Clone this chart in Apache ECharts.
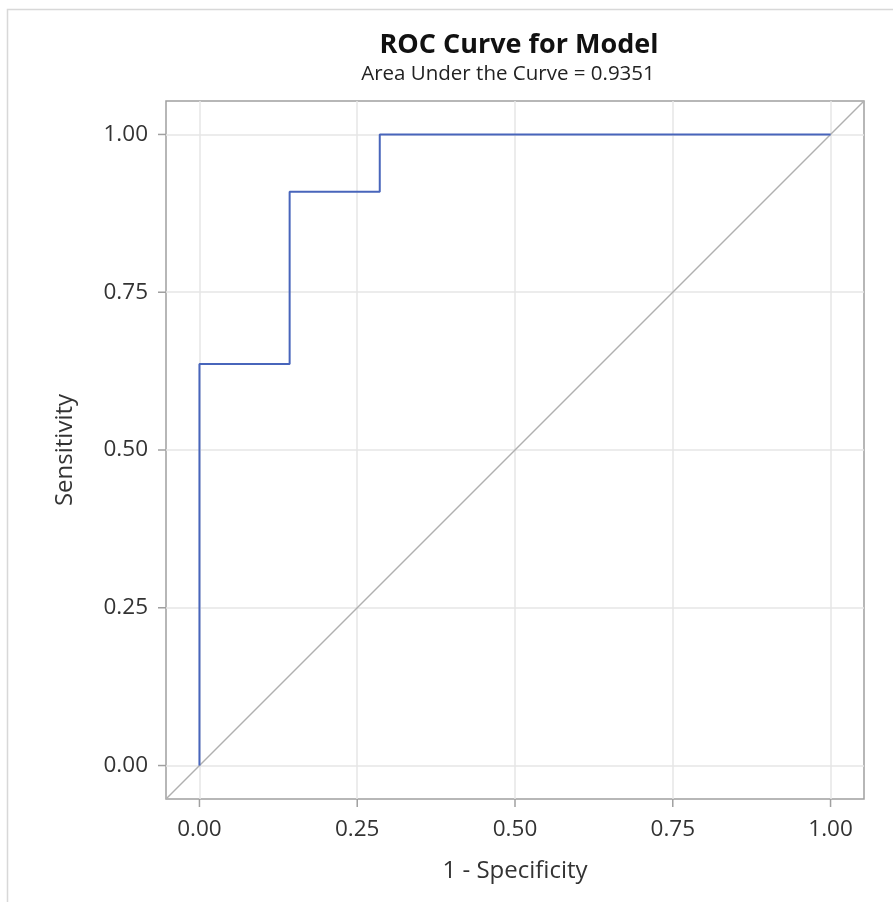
<!DOCTYPE html>
<html><head><meta charset="utf-8">
<script src="https://cdn.jsdelivr.net/npm/echarts@6/dist/echarts.min.js"></script>
<style>html,body{margin:0;padding:0;background:#fff}#c{width:893px;height:902px}</style>
</head><body><div id="c"></div>
<script>
const titleText = 'ROC Curve for Model';
const subtitleText = 'Area Under the Curve = 0.9351';
const xLabel = '1 - Specificity';
const yLabel = 'Sensitivity';
const fpr = [0, 0, 0.1429, 0.1429, 0.2857, 0.2857, 1];
const tpr = [0, 0.6364, 0.6364, 0.9091, 0.9091, 1, 1];
const refX = [-0.053, 1.053];
const refY = [-0.053, 1.053];
const tickVals = [0, 0.25, 0.5, 0.75, 1];

const chart = echarts.init(document.getElementById('c'), null, {renderer:'canvas'});
const axisCommon = {
  type:'value', min:-0.053, max:1.053,
  axisLine:{show:false},
  splitLine:{show:false},
  axisTick:{show:false},
  axisLabel:{show:false}
};
const rocData = fpr.map((x,i)=>[x,tpr[i]]);
const refData = refX.map((x,i)=>[x,refY[i]]);
chart.setOption({
  animation:false,
  title:[
    {text:titleText, left:514, top:27, textAlign:'center',
     textStyle:{fontFamily:'Open Sans', fontWeight:'bold', fontSize:27, color:'#111'}},
    {text:subtitleText, left:503, top:59, textAlign:'center',
     textStyle:{fontFamily:'Open Sans', fontWeight:'normal', fontSize:20.5, color:'#222'}}
  ],
  grid:{left:166, top:101, width:698, height:698, show:true, borderColor:'#a0a0a0', borderWidth:1.5, backgroundColor:'#fff'},
  xAxis:[Object.assign({}, axisCommon, {
    name:xLabel, nameLocation:'middle', nameGap:60,
    nameTextStyle:{fontFamily:'Open Sans', fontSize:24, color:'#333'}
  })],
  yAxis:[Object.assign({}, axisCommon, {
    name:yLabel, nameLocation:'middle', nameGap:89,
    nameTextStyle:{fontFamily:'Open Sans', fontSize:24, color:'#333'}
  })],
  series:[
    {type:'line', data:[], symbol:'none', silent:true, z:1,
     markLine:{silent:true, symbol:'none', label:{show:false}, animation:false, z:1,
       lineStyle:{color:'#e6e6e6', width:1.5, type:'solid'},
       data: tickVals.map(v=>({xAxis:v})).concat(tickVals.map(v=>({yAxis:v})))}
    },
    {type:'line', data:refData, symbol:'none', silent:true,
     lineStyle:{color:'#b0b0b0', width:1.5}, z:2},
    {type:'line', data:rocData, symbol:'none',
     lineStyle:{color:'#4865bb', width:2}, z:3}
  ]
});
function drawTicks(){
  const els = [];
  const tickFont = '22.5px "Open Sans"';
  tickVals.forEach(v=>{
    const px = chart.convertToPixel({xAxisIndex:0}, v);
    const py = chart.convertToPixel({yAxisIndex:0}, v);
    els.push({type:'line', shape:{x1:px, y1:799, x2:px, y2:807}, style:{stroke:'#a0a0a0', lineWidth:1.5}, silent:true});
    els.push({type:'text', x:px, y:830, style:{text:v.toFixed(2), font:tickFont, fill:'#333', textAlign:'center', textVerticalAlign:'middle'}, silent:true});
    els.push({type:'line', shape:{x1:158, y1:py, x2:166, y2:py}, style:{stroke:'#a0a0a0', lineWidth:1.5}, silent:true});
    els.push({type:'text', x:148, y:py, style:{text:v.toFixed(2), font:tickFont, fill:'#333', textAlign:'right', textVerticalAlign:'middle'}, silent:true});
  });
  els.push({type:'rect', shape:{x:7.5, y:9.5, width:900, height:900}, style:{fill:null, stroke:'#d8d8d8', lineWidth:1.5}, silent:true, z:-1});
  chart.setOption({graphic:{elements:els}});
}
drawTicks();
</script></body></html>
